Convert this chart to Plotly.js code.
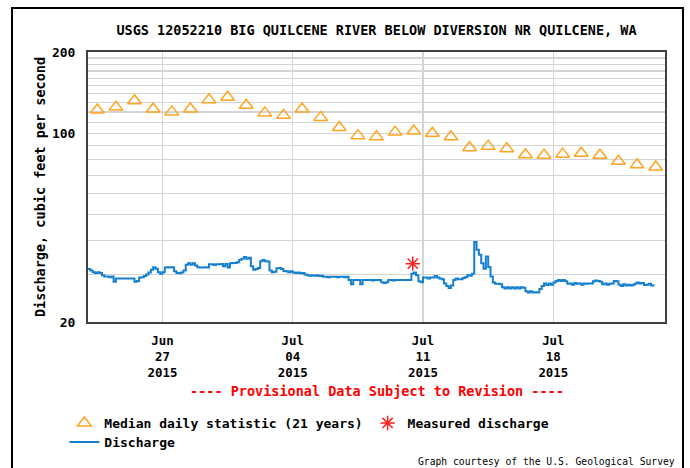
<!DOCTYPE html>
<html>
<head>
<meta charset="utf-8">
<script src="https://cdn.plot.ly/plotly-3.0.1.min.js"></script>
<style>
  html, body { margin: 0; padding: 0; background: #fff; }
  #wrap { position: relative; width: 690px; height: 468px; overflow: hidden; }
  #chart { width: 690px; height: 468px; }
  #frame { position: absolute; left: 11px; top: 7px; width: 673px; height: 480px;
           border: 2px solid #000; box-sizing: border-box; pointer-events: none; }
</style>
</head>
<body>
<div id="wrap"><div id="chart"></div><div id="frame"></div></div>
<script>
// ---- Data ----
const chartTitle = 'USGS 12052210 BIG QUILCENE RIVER BELOW DIVERSION NR QUILCENE, WA';

// Median daily statistic (21 years), one value per day (plotted at noon)
const medianDates = [
  '2015-06-23 12:00','2015-06-24 12:00','2015-06-25 12:00','2015-06-26 12:00','2015-06-27 12:00',
  '2015-06-28 12:00','2015-06-29 12:00','2015-06-30 12:00','2015-07-01 12:00','2015-07-02 12:00',
  '2015-07-03 12:00','2015-07-04 12:00','2015-07-05 12:00','2015-07-06 12:00','2015-07-07 12:00',
  '2015-07-08 12:00','2015-07-09 12:00','2015-07-10 12:00','2015-07-11 12:00','2015-07-12 12:00',
  '2015-07-13 12:00','2015-07-14 12:00','2015-07-15 12:00','2015-07-16 12:00','2015-07-17 12:00',
  '2015-07-18 12:00','2015-07-19 12:00','2015-07-20 12:00','2015-07-21 12:00','2015-07-22 12:00',
  '2015-07-23 12:00'
];
const medianValues = [
  122, 125, 132, 123, 120, 123, 133, 136, 127, 119,
  116.5, 123, 114.5, 105, 98, 97, 101, 102, 100, 97,
  88.4, 89.6, 87.6, 83.3, 82.9, 83.7, 84.4, 82.9, 78.8, 76.4,
  75
];

// Measured discharge (field measurement)
const measuredDates = ['2015-07-10 10:45'];
const measuredValues = [32.9];

// Discharge, sampled every 3 hours starting 2015-06-23 00:00 (one row per day)
const dischargeStart = '2015-06-23T00:00:00Z';
const dischargeStepHours = 3;
const dischargeValues = [
  31.4, 31.0, 30.6, 30.4, 30.6, 30.4, 29.8, 29.5,   // Jun 23
  29.5, 29.3, 29.5, 28.2, 29.0, 29.0, 29.0, 29.0,   // Jun 24
  29.0, 29.0, 29.0, 29.0, 28.2, 28.4, 29.2, 29.3,   // Jun 25
  29.6, 30.0, 30.5, 31.2, 31.9, 31.5, 30.6, 30.2,   // Jun 26
  30.6, 31.8, 31.9, 31.8, 31.9, 30.8, 30.4, 30.3,   // Jun 27
  30.5, 31.0, 32.6, 33.0, 32.6, 33.0, 32.4, 31.9,   // Jun 28
  31.8, 31.8, 31.9, 31.8, 32.7, 32.7, 32.5, 32.7,   // Jun 29
  32.7, 32.8, 32.2, 32.8, 31.8, 33.0, 33.1, 33.1,   // Jun 30
  33.3, 34.0, 34.3, 34.8, 34.3, 34.6, 32.2, 31.2,   // Jul 1
  31.4, 31.7, 33.6, 33.9, 33.6, 33.5, 31.0, 30.6,   // Jul 2
  30.7, 31.6, 31.7, 31.4, 30.9, 30.8, 30.6, 30.8,   // Jul 3
  30.5, 30.4, 30.5, 30.3, 30.4, 30.0, 29.8, 29.7,   // Jul 4
  29.8, 29.7, 29.8, 29.6, 29.7, 29.4, 29.4, 29.3,   // Jul 5
  29.4, 29.4, 29.4, 29.3, 29.4, 29.4, 29.3, 29.4,   // Jul 6
  28.6, 27.6, 28.6, 28.6, 28.6, 27.6, 28.6, 28.6,   // Jul 7
  28.6, 28.6, 28.5, 28.6, 28.6, 28.6, 28.1, 27.9,   // Jul 8
  28.1, 28.6, 28.6, 28.5, 28.6, 28.6, 28.6, 28.6,   // Jul 9
  28.6, 28.6, 28.6, 30.2, 30.5, 29.8, 28.3, 28.1,   // Jul 10
  29.2, 29.2, 29.0, 29.2, 29.2, 29.6, 29.2, 29.0,   // Jul 11
  28.8, 27.8, 27.2, 26.7, 27.3, 28.6, 29.0, 28.8,   // Jul 12
  28.8, 29.1, 29.3, 29.8, 29.7, 30.2, 39.6, 37.0,   // Jul 13
  35.5, 33.0, 31.5, 35.0, 32.0, 29.5, 28.0, 27.7,   // Jul 14
  27.7, 27.6, 26.9, 26.6, 26.9, 26.6, 26.9, 26.6,   // Jul 15
  26.9, 26.6, 26.9, 26.8, 26.0, 25.7, 26.0, 25.7,   // Jul 16
  25.8, 25.7, 26.5, 27.2, 27.8, 27.4, 27.8, 27.5,   // Jul 17
  28.0, 28.4, 28.6, 28.4, 28.6, 28.3, 27.7, 27.8,   // Jul 18
  27.5, 27.9, 27.7, 27.8, 27.5, 27.8, 27.7, 27.8,   // Jul 19
  27.8, 28.3, 28.5, 28.4, 28.2, 27.6, 27.8, 27.5,   // Jul 20
  27.7, 27.8, 28.4, 28.3, 27.5, 27.2, 27.6, 27.3,   // Jul 21
  27.5, 27.3, 27.5, 27.8, 28.0, 27.8, 27.9, 27.4,   // Jul 22
  27.5, 27.7, 27.3, 27.6                            // Jul 23
];

const xTickVals = ['2015-06-27', '2015-07-04', '2015-07-11', '2015-07-18'];
const xTickText = ['Jun<br>27<br>2015', 'Jul<br>04<br>2015', 'Jul<br>11<br>2015', 'Jul<br>18<br>2015'];
const xRange = ['2015-06-23 00:00', '2015-07-24 00:00'];

const yGridVals = [20,30,40,50,60,70,80,90,100,110,120,130,140,150,160,170,180,190,200];
const yLabelVals = [20, 100, 200];

// ---- Build timestamps for the regular 3-hour discharge series ----
function pad(n) { return (n < 10 ? '0' : '') + n; }
const t0 = Date.parse(dischargeStart);
const dischargeTimes = dischargeValues.map((_, i) => {
  const d = new Date(t0 + i * dischargeStepHours * 3600 * 1000);
  return d.getUTCFullYear() + '-' + pad(d.getUTCMonth() + 1) + '-' + pad(d.getUTCDate()) +
         ' ' + pad(d.getUTCHours()) + ':' + pad(d.getUTCMinutes());
});

const FONT = 'DejaVu Sans Mono, Liberation Mono, monospace';

const traces = [
  {
    type: 'scatter', mode: 'lines', name: 'Discharge',
    x: dischargeTimes, y: dischargeValues,
    line: { color: '#1580cf', width: 2, shape: 'hv' },
    legend: 'legend2'
  },
  {
    type: 'scatter', mode: 'markers', name: 'Median daily statistic (21 years)',
    x: medianDates, y: medianValues,
    marker: { symbol: 'triangle-up-open', size: 12, color: '#ffa320', line: { width: 1.5, color: '#ffa320' } },
    legend: 'legend'
  },
  {
    type: 'scatter', mode: 'markers', name: 'Measured discharge',
    x: measuredDates, y: measuredValues,
    marker: { symbol: 'asterisk-open', size: 12, color: '#ff2020', line: { width: 1.5, color: '#ff2020' } },
    legend: 'legend'
  }
];

const layout = {
  width: 690, height: 468,
  margin: { l: 88, r: 25, t: 52, b: 145 },
  paper_bgcolor: '#ffffff', plot_bgcolor: '#ffffff',
  font: { family: FONT, size: 13, color: '#000', weight: 'bold' },
  showlegend: true,
  title: {
    text: chartTitle,
    font: { family: FONT, size: 13.5, color: '#000', weight: 'bold' },
    xref: 'paper', x: 0.5, xanchor: 'center',
    yref: 'container', y: 1 - 30 / 468, yanchor: 'middle'
  },
  xaxis: {
    type: 'date', range: xRange,
    tickmode: 'array', tickvals: xTickVals, ticktext: xTickText,
    ticks: '', ticklabelstandoff: 6,
    tickfont: { family: FONT, size: 12.4, weight: 'bold' },
    showgrid: true, gridcolor: '#d4d4d4', gridwidth: 1.5,
    showline: true, linecolor: '#404040', linewidth: 2, mirror: true,
    zeroline: false, fixedrange: true
  },
  yaxis: {
    type: 'log', range: [Math.log10(20), Math.log10(200)],
    tickmode: 'array', tickvals: yGridVals,
    ticktext: yGridVals.map(v => yLabelVals.includes(v) ? String(v) : ''),
    ticks: '', ticklabelstandoff: 8,
    tickfont: { family: FONT, size: 13, weight: 'bold' },
    showgrid: true, gridcolor: '#d4d4d4', gridwidth: 1.2,
    showline: true, linecolor: '#404040', linewidth: 2, mirror: true,
    zeroline: false, fixedrange: true,
    title: {
      text: 'Discharge, cubic feet per second',
      font: { family: FONT, size: 13.5, weight: 'bold' },
      standoff: 3
    }
  },
  legend: {
    orientation: 'h', x: -0.041, xanchor: 'left',
    y: -100 / 271, yanchor: 'middle', yref: 'paper',
    font: { family: FONT, size: 13, weight: 'bold' },
    bgcolor: 'rgba(0,0,0,0)', traceorder: 'normal'
  },
  legend2: {
    orientation: 'h', x: -0.041, xanchor: 'left',
    y: -119 / 271, yanchor: 'middle', yref: 'paper',
    font: { family: FONT, size: 13, weight: 'bold' },
    bgcolor: 'rgba(0,0,0,0)'
  },
  annotations: [
    {
      text: '---- Provisional Data Subject to Revision ----',
      xref: 'paper', yref: 'paper', x: 0.5, y: 0, xanchor: 'center', yanchor: 'middle',
      yshift: -69, showarrow: false,
      font: { family: FONT, size: 13.5, color: '#ff0000', weight: 'bold' }
    },
    {
      text: 'Graph courtesy of the U.S. Geological Survey',
      xref: 'paper', yref: 'paper', x: 1, y: 0, xanchor: 'right', yanchor: 'middle',
      xshift: 12, yshift: -139, showarrow: false,
      font: { family: FONT, size: 9.7, color: '#000', weight: 'normal' }
    }
  ]
};

Plotly.newPlot('chart', traces, layout, { staticPlot: true, displayModeBar: false });
</script>
</body>
</html>
